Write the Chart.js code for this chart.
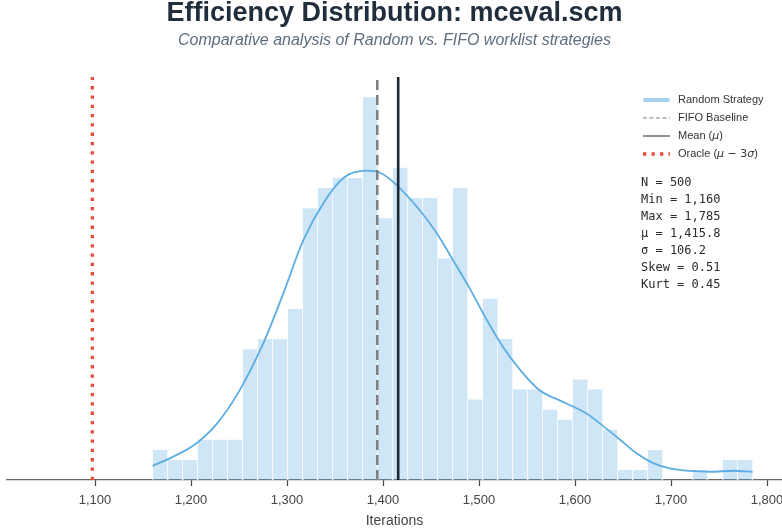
<!DOCTYPE html>
<html><head><meta charset="utf-8">
<script src="https://cdn.jsdelivr.net/npm/chart.js@4.4.0/dist/chart.umd.min.js"></script>
<style>html,body{margin:0;padding:0;background:#fff}#wrap{width:782px;height:532px}</style>
</head><body><div id="wrap"><canvas id="c" width="782" height="532"></canvas></div>
<script>
// ---- data ----
const chartTitle = 'Efficiency Distribution: mceval.scm';
const chartSubtitle = 'Comparative analysis of Random vs. FIFO worklist strategies';
const xAxisLabel = 'Iterations';
const binEdges = [1160, 1175.625, 1191.25, 1206.875, 1222.5, 1238.125, 1253.75, 1269.375, 1285, 1300.625,
  1316.25, 1331.875, 1347.5, 1363.125, 1378.75, 1394.375, 1410, 1425.625, 1441.25, 1456.875,
  1472.5, 1488.125, 1503.75, 1519.375, 1535, 1550.625, 1566.25, 1581.875, 1597.5, 1613.125,
  1628.75, 1644.375, 1660, 1675.625, 1691.25, 1706.875, 1722.5, 1738.125, 1753.75, 1769.375, 1785];
const binCounts = [3,2,2,4,4,4,13,14,14,17,27,29,30,30,38,26,31,28,28,22,29,8,18,14,9,9,7,6,10,9,5,1,1,3,0,0,1,0,2,2];
const kdeX = [1160,1180,1205,1227,1250,1275,1296,1317,1338,1359,1383,1397,1414,1438,1456,1473,1491,1508,1525,1543,1563,1584,1612,1630,1647,1664,1682,1699,1720,1741,1765,1785];
const kdeY = [1.4,2.25,3.6,5.6,8.8,13.5,18.5,23.8,27.5,30.0,30.7,30.5,29.3,26.8,24.5,21.8,18.9,15.9,13.2,10.9,8.9,7.9,6.6,5.3,4.0,2.65,1.65,1.15,0.9,0.82,0.92,0.8];
const fifoBaseline = 1394;
const meanValue = 1415.8;
const oracleValue = 1097.2;
const xTickValues = [1100,1200,1300,1400,1500,1600,1700,1800];
const legendLabels = ['Random Strategy','FIFO Baseline','Mean (μ)','Oracle (μ − 3σ)'];
const statsLines = ['N = 500','Min = 1,160','Max = 1,785','μ = 1,415.8','σ = 106.2','Skew = 0.51','Kurt = 0.45'];
const yMax = 40;

// ---- build ----
const barData = binCounts.map((c,i)=>({x:(binEdges[i]+binEdges[i+1])/2, y:c}));
const kdeData = kdeX.map((x,i)=>({x:x, y:kdeY[i]}));
const vline = v => [{x:v,y:0},{x:v,y:yMax}];

const overlayPlugin = {
  id:'overlay',
  afterDraw(chart){
    const ctx = chart.ctx;
    ctx.save();
    // legend
    const lx0 = 643, lx1 = 670, tx = 678, y0 = 100, dy = 18;
    const rows = [
      {color:'#a6d0ef', w:4, dash:[], cap:'round'},
      {color:'#7f7f7f', w:1.2, dash:[4,2.5], cap:'butt'},
      {color:'#555555', w:1.3, dash:[], cap:'butt'},
      {color:'#e74c3c', w:3.3, dash:[3.3,5.2], cap:'butt'}
    ];
    rows.forEach((r,i)=>{
      const y = y0 + i*dy;
      ctx.beginPath();
      ctx.setLineDash(r.dash);
      ctx.lineCap = r.cap;
      ctx.strokeStyle = r.color;
      ctx.lineWidth = r.w;
      ctx.moveTo(lx0 + (r.cap==='round'?2:0), y);
      ctx.lineTo(lx1 - (r.cap==='round'?2:0), y);
      ctx.stroke();
    });
    ctx.setLineDash([]);
    ctx.fillStyle = '#333';
    ctx.textBaseline = 'middle';
    ctx.textAlign = 'left';
    const norm = '11px "Liberation Sans", Arial, sans-serif';
    const ital = 'italic 11px "DejaVu Sans", sans-serif';
    const math = '11px "DejaVu Sans", sans-serif';
    const drawParts = (parts, x, y) => {
      parts.forEach(p => { ctx.font = p[1]; ctx.fillText(p[0], x, y); x += ctx.measureText(p[0]).width; });
    };
    drawParts([[legendLabels[0], norm]], tx, y0);
    drawParts([[legendLabels[1], norm]], tx, y0+dy);
    drawParts([['Mean (', norm], ['μ', ital], [')', norm]], tx, y0+2*dy);
    drawParts([['Oracle (', norm], ['μ', ital], [' − 3', math], ['σ', ital], [')', norm]], tx, y0+3*dy);
    // stats
    ctx.font = '12px "DejaVu Sans Mono", monospace';
    ctx.fillStyle = '#2b2b2b';
    statsLines.forEach((s,i)=>{ ctx.fillText(s, 641, 183 + i*17); });
    ctx.restore();
  }
};

new Chart(document.getElementById('c'), {
  type:'bar',
  data:{
    datasets:[
      {type:'line', label:'oracle', data:vline(oracleValue), borderColor:'#e74c3c', borderWidth:3.3, borderDash:[3.3,6], pointRadius:0, order:1, borderCapStyle:'butt'},
      {type:'line', label:'mean', data:vline(meanValue), borderColor:'#1c2833', borderWidth:2.6, pointRadius:0, order:1},
      {type:'line', label:'fifo', data:vline(fifoBaseline), borderColor:'#808080', borderWidth:2.6, borderDash:[10,5], pointRadius:0, order:1},
      {type:'line', label:'kde', data:kdeData, borderColor:'#5dade2', borderWidth:1.8, pointRadius:0, cubicInterpolationMode:'monotone', order:2},
      {type:'bar', label:'Random Strategy', data:barData, backgroundColor:'rgba(93,173,226,0.3)', borderColor:'#ffffff',
        borderWidth:{left:0.6,right:0.6,top:0.5,bottom:0}, borderSkipped:false, barPercentage:1, categoryPercentage:1, grouped:false, order:10}
    ]
  },
  options:{
    responsive:false, animation:false, devicePixelRatio:1,
    layout:{padding:{left:7,right:0,top:0,bottom:0}},
    plugins:{
      legend:{display:false}, tooltip:{enabled:false},
      title:{display:true, text:chartTitle, color:'#1f2d3d', font:{family:'"Liberation Sans", Arial, sans-serif', size:27, weight:'bold', lineHeight:1}, padding:{top:0.1,bottom:5.9}},
      subtitle:{display:true, text:chartSubtitle, color:'#5d6d7e', font:{family:'"Liberation Sans", Arial, sans-serif', size:16, style:'italic', lineHeight:1}, padding:{top:0,bottom:28}}
    },
    scales:{
      x:{type:'linear', min:1008.3, max:1815.6, offset:false,
        afterBuildTicks: s => { s.ticks = xTickValues.map(v=>({value:v})); },
        afterFit: s => { s.paddingLeft = 0; s.paddingRight = 0; },
        grid:{display:true, drawOnChartArea:false, drawTicks:true, tickLength:6, tickWidth:1.2, tickColor:'#444', offset:false},
        border:{display:true, color:'#666', width:1.2},
        ticks:{font:{family:'"Liberation Sans", Arial, sans-serif', size:13, lineHeight:1.2}, color:'#444', padding:6.2, maxRotation:0, autoSkip:false,
          callback: v => v.toLocaleString('en-US')},
        title:{display:true, text:xAxisLabel, color:'#444', font:{family:'"Liberation Sans", Arial, sans-serif', size:14, lineHeight:1}, padding:{top:0,bottom:4}}
      },
      y:{display:false, min:0, max:yMax}
    }
  },
  plugins:[overlayPlugin]
});
</script></body></html>
